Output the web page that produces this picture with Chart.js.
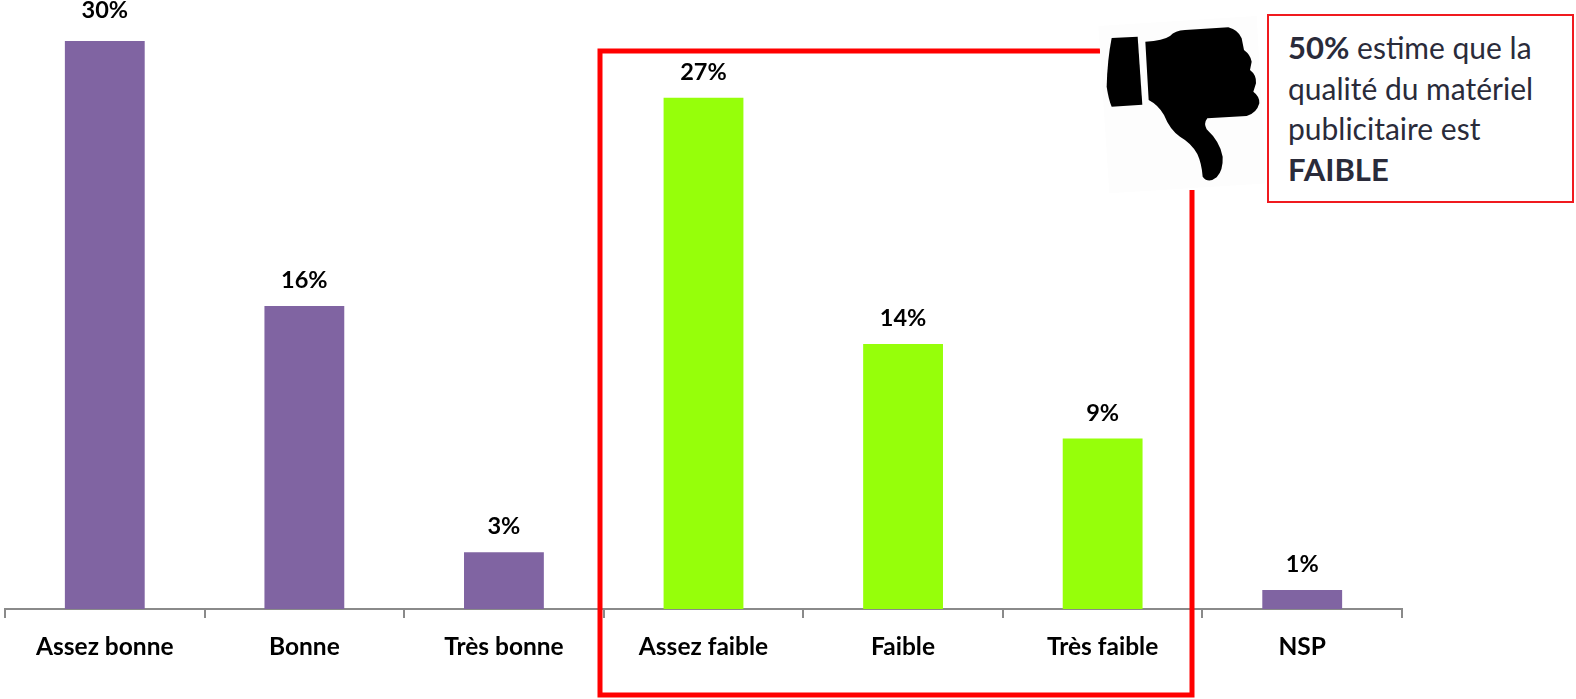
<!DOCTYPE html>
<html lang="fr">
<head>
<meta charset="utf-8">
<title>Qualité du matériel publicitaire</title>
<script src="https://cdn.jsdelivr.net/npm/chart.js"></script>
<style>
  html, body { margin: 0; padding: 0; background: #fff; overflow: hidden; }
  #wrap { position: relative; width: 1576px; height: 699px; }
  #myChart { position: absolute; left: 0; top: 0; }
  #thumb { position: absolute; left: 1095px; top: 15px; }
  #note {
    position: absolute; left: 1267px; top: 14px; width: 307px; height: 189px;
    box-sizing: border-box; border: 2px solid #f01a1f; background: #fff;
    padding: 11px 0 0 19px;
    font: 30px/40.5px Lato, sans-serif; color: #2a2b3a;
  }
  #note b { font-weight: 700; font-size: 31px; }
</style>
</head>
<body>
<div id="wrap">
  <canvas id="myChart" width="1576" height="699"></canvas>
  <svg id="thumb" width="170" height="180" viewBox="105 45 510 540">
    <polygon points="115,78 590,48 618,550 148,580" fill="#fdfdfd"/>
    <path d="M155,114 L233,110 L247,314 L155,320 Q146,300 140,260 Q142,180 155,114 Z" fill="#000"/>
    <path d="M256,125 Q310,122 330,108 Q345,92 375,90 L505,82 Q535,90 545,115 L552,150 Q572,165 575,185 L570,210 Q590,225 588,250 L580,275 Q600,290 598,310 Q590,340 560,348 L442,355 Q430,370 440,388 Q480,425 488,470 Q490,510 470,532 Q445,552 428,530 Q425,490 412,462 Q395,430 360,410 Q330,390 312,345 Q295,315 266,300 Z" fill="#000"/>
  </svg>
  <div id="note"><b>50%</b> estime que la<br>qualité du matériel<br>publicitaire est<br><b>FAIBLE</b></div>
</div>
<script>
// Data
var categories = ['Assez bonne', 'Bonne', 'Très bonne', 'Assez faible', 'Faible', 'Très faible', 'NSP'];
var values = [30, 16, 3, 27, 14, 9, 1];
var lowQuality = ['Assez faible', 'Faible', 'Très faible'];

var PURPLE = '#8064a2';
var GREEN = '#96ff0a';
var RED = '#ff0000';

// percent labels above the bars
var valueLabels = {
    id: 'valueLabels',
    afterDatasetsDraw: function (chart) {
        var c = chart.ctx;
        c.save();
        c.font = 'bold 23.5px Lato, sans-serif';
        c.fillStyle = '#000';
        c.textAlign = 'center';
        c.textBaseline = 'alphabetic';
        chart.getDatasetMeta(0).data.forEach(function (bar, i) {
            // the tallest label sits a bit higher in the original
            var lift = values[i] === Math.max.apply(null, values) ? 23 : 18;
            c.fillText(values[i] + '%', bar.x, bar.y - lift);
        });
        c.restore();
    }
};

// red frame round the "faible" group, stops at the thumb picture
var frame = {
    id: 'frame',
    afterDraw: function (chart) {
        var c = chart.ctx;
        c.save();
        c.strokeStyle = RED;
        c.lineWidth = 5;
        c.lineJoin = 'miter';
        c.beginPath();
        c.moveTo(1100, 51);
        c.lineTo(600, 51);
        c.lineTo(600, 695);
        c.lineTo(1192, 695);
        c.lineTo(1192, 190);
        c.stroke();
        c.restore();
    }
};

var ctx = document.getElementById('myChart').getContext('2d');

var myChart = new Chart(ctx, {
    type: 'bar',
    data: {
        labels: categories,
        datasets: [{
            data: values,
            backgroundColor: categories.map(function (name) {
                return lowQuality.indexOf(name) >= 0 ? GREEN : PURPLE;
            }),
            barPercentage: 0.4,
            categoryPercentage: 1
        }]
    },
    options: {
        responsive: false,
        animation: false,
        layout: { padding: { left: 5, right: 174, top: 41, bottom: 0 } },
        plugins: { legend: { display: false }, tooltip: { enabled: false } },
        scales: {
            x: {
                afterFit: function (scale) { scale.height = 90; },
                border: { color: '#8a8a8a', width: 2 },
                grid: {
                    offset: true,
                    drawOnChartArea: false,
                    color: '#8a8a8a',
                    lineWidth: 2,
                    tickLength: 9
                },
                ticks: {
                    color: '#000',
                    padding: 14,
                    maxRotation: 0,
                    font: { family: 'Lato, sans-serif', size: 24.5, weight: 'bold' }
                }
            },
            y: { display: false, min: 0, max: 30 }
        }
    },
    plugins: [valueLabels, frame]
});
</script>
</body>
</html>
